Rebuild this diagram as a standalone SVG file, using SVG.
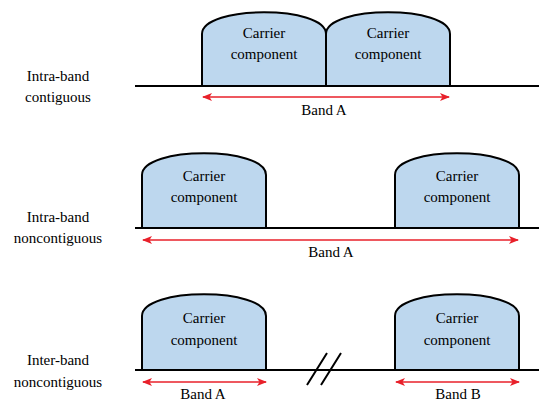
<svg xmlns="http://www.w3.org/2000/svg" width="539" height="405" viewBox="0 0 539 405">
<defs>
<style>
.cc{fill:#bdd7ee;stroke:#000;stroke-width:2}
.base{stroke:#000;stroke-width:2;fill:none}
.arr{stroke:#e8202a;stroke-width:1.6;fill:none;marker-start:url(#ah);marker-end:url(#ah)}
</style>
<marker id="ah" viewBox="0 0 10 8" refX="9" refY="4" markerWidth="10" markerHeight="8" markerUnits="userSpaceOnUse" orient="auto-start-reverse">
<path d="M0,0 L10,4 L0,8 L2.5,4 Z" fill="#e8202a"/>
</marker>
</defs>
<rect width="539" height="405" fill="#fff"/>
<g font-family="Liberation Serif, DejaVu Serif, serif" font-size="15" text-anchor="middle" fill="#000">
<g id="labels">
<text x="58" y="81">Intra-band</text>
<text x="58" y="102">contiguous</text>
<text x="58" y="222">Intra-band</text>
<text x="58" y="243">noncontiguous</text>
<text x="58" y="365">Inter-band</text>
<text x="58" y="387">noncontiguous</text>
</g>
</g>
<g id="connectors">
<path class="base" d="M135,86 H539"/>
<path class="base" d="M135,228 H539"/>
<path class="base" d="M135,370 H539"/>
<path class="base" d="M307,385 L327,353 M321,385 L341,353" stroke-width="1.8"/>
<path class="arr" d="M203,97 H449"/>
<path class="arr" d="M143,240 H518"/>
<path class="arr" d="M143,382 H266"/>
<path class="arr" d="M396,382 H519"/>
</g>
<g font-family="Liberation Serif, DejaVu Serif, serif" font-size="15" text-anchor="middle" fill="#000">
<g id="row1-cc1">
<path class="cc" d="M202,86 V34 C202,5 326,5 326,34 V86 Z"/>
<text x="264" y="38">Carrier</text>
<text x="264" y="59">component</text>
</g>
<g id="row1-cc2">
<path class="cc" d="M326,86 V34 C326,5 450,5 450,34 V86 Z"/>
<text x="388" y="38">Carrier</text>
<text x="388" y="59">component</text>
</g>
<g id="row1-band">
<text x="324" y="115">Band A</text>
</g>
<g id="row2-cc1">
<path class="cc" d="M142,228 V175 C142,146 266,146 266,175 V228 Z"/>
<text x="204" y="181">Carrier</text>
<text x="204" y="202">component</text>
</g>
<g id="row2-cc2">
<path class="cc" d="M395,228 V175 C395,146 519,146 519,175 V228 Z"/>
<text x="457" y="181">Carrier</text>
<text x="457" y="202">component</text>
</g>
<g id="row2-band">
<text x="331" y="257">Band A</text>
</g>
<g id="row3-cc1">
<path class="cc" d="M142,370 V316 C142,287 266,287 266,316 V370 Z"/>
<text x="204" y="323">Carrier</text>
<text x="204" y="345">component</text>
</g>
<g id="row3-cc2">
<path class="cc" d="M395,370 V316 C395,287 519,287 519,316 V370 Z"/>
<text x="457" y="323">Carrier</text>
<text x="457" y="345">component</text>
</g>
<g id="row3-bands">
<text x="203" y="399">Band A</text>
<text x="458" y="399">Band B</text>
</g>
</g>
</svg>
